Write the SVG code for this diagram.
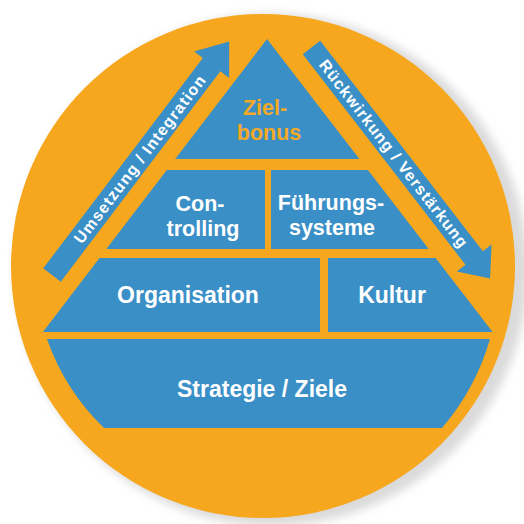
<svg xmlns="http://www.w3.org/2000/svg" width="524" height="524" viewBox="0 0 524 524">
  <defs>
    <filter id="soft" x="-10%" y="-10%" width="120%" height="120%">
      <feGaussianBlur stdDeviation="5"/>
    </filter>
    <style>
      .blk { fill: #3A8FC6; }
      .lbl { font-family: "Liberation Sans", Arial, Helvetica, sans-serif; font-weight: bold; font-size: 23px; fill: #FFFFFF; text-anchor: middle; }
      .two { font-size: 21.5px; }
      .gold { fill: #F4A927; }
      .arr { fill: #3A8FC6; }
      .arrlbl { font-family: "Liberation Sans", Arial, Helvetica, sans-serif; font-weight: bold; font-size: 16px; fill: #FFFFFF; text-anchor: middle; }
    </style>
  </defs>
  <rect width="524" height="524" fill="#FFFFFF"/>
  <g id="shadow">
    <circle cx="272" cy="270" r="256" fill="#DADADA" filter="url(#soft)"/>
  </g>
  <g id="ring">
    <circle cx="263" cy="266" r="252" fill="#F6A71E"/>
  </g>

  <g id="ziel-bonus">
    <polygon class="blk" points="267,39 359.4,159 175.2,159"/>
    <text class="lbl two gold" x="265" y="115">Ziel-</text>
    <text class="lbl two gold" x="269" y="139.5">bonus</text>
  </g>
  <g id="controlling">
    <polygon class="blk" points="166.8,170 265,170 265,249 106.4,249"/>
    <text class="lbl two" x="200" y="211">Con-</text>
    <text class="lbl two" x="203" y="235.5">trolling</text>
  </g>
  <g id="fuehrungssysteme">
    <polygon class="blk" points="271,170 367.9,170 428.7,249 271,249"/>
    <text class="lbl two" x="331" y="210">Führungs-</text>
    <text class="lbl two" x="332" y="234.5">systeme</text>
  </g>
  <g id="organisation">
    <polygon class="blk" points="99.5,258 320,258 320,332 42.9,332"/>
    <text class="lbl" x="188" y="303">Organisation</text>
  </g>
  <g id="kultur">
    <polygon class="blk" points="328,258 435.6,258 492.6,332 328,332"/>
    <text class="lbl" x="392" y="303">Kultur</text>
  </g>
  <g id="strategie-ziele">
    <path class="blk" d="M47,339 L490,339 A239,239 0 0 1 442,428 L104,428 A228,228 0 0 1 47,339 Z"/>
    <text class="lbl" x="262" y="397">Strategie / Ziele</text>
  </g>

  <g id="connectors">
    <g id="arrow-umsetzung" transform="translate(52,275) rotate(-52.8)">
      <polygon class="arr" points="0,-11 264,-11 264,-22 293,0 264,22 264,11 0,11"/>
      <text class="arrlbl" x="145" y="5.5" textLength="206" lengthAdjust="spacing">Umsetzung / Integration</text>
    </g>
    <g id="arrow-rueckwirkung" transform="translate(311.5,47.5) rotate(52.3)">
      <polygon class="arr" points="0,-11 266,-11 266,-22 292,0 266,22 266,11 0,11"/>
      <text class="arrlbl" x="134" y="5.5" textLength="232" lengthAdjust="spacing">Rückwirkung / Verstärkung</text>
    </g>
  </g>
</svg>
